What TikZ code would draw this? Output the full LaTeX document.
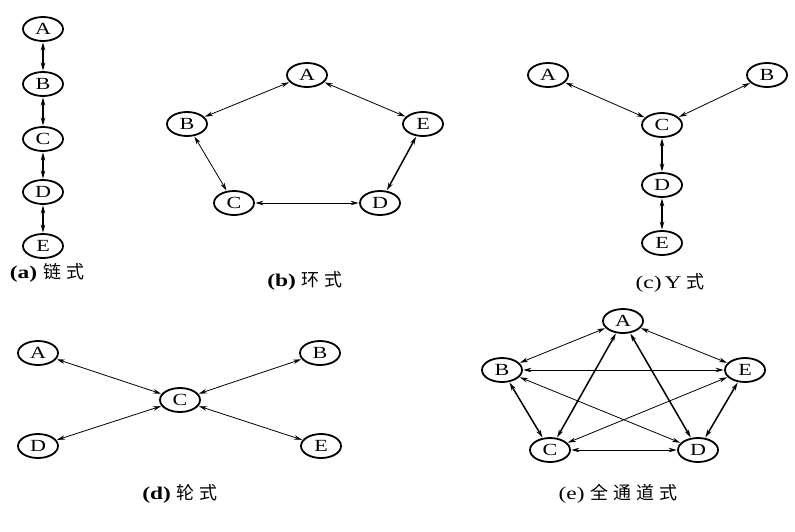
\documentclass[tikz,border=0pt]{standalone}
\usepackage{fontspec}
\setmainfont[FakeStretch=1.3]{Liberation Serif}
\newfontfamily\cjk{Noto Sans CJK SC}
\usetikzlibrary{arrows.meta,shapes.geometric}
\newcommand{\gp}{\hspace{5pt}}
\begin{document}
\begin{tikzpicture}[x=1pt,y=-1pt,
  nd/.style={draw,ellipse,line width=1.8pt,minimum width=40pt,minimum height=24pt,inner sep=0pt,font=\fontsize{17}{17}\selectfont},
  lk/.style={{Stealth[length=8pt,width=4.5pt]}-{Stealth[length=8pt,width=4.5pt]},line width=0.8pt,shorten <=0.5pt,shorten >=0.5pt},
  lkb/.style={lk,line width=1.5pt},
  captxt/.style={font=\fontsize{18}{18}\selectfont}]
\useasboundingbox (0,0) rectangle (795,531);
% (a)
\node[nd] (aA) at (43,29) {A};
\node[nd] (aB) at (43,84) {B};
\node[nd] (aC) at (43,139) {C};
\node[nd] (aD) at (43,192) {D};
\node[nd] (aE) at (43,246) {E};
\draw[lkb] (aA) -- (aB);
\draw[lkb] (aB) -- (aC);
\draw[lkb] (aC) -- (aD);
\draw[lkb] (aD) -- (aE);
\node[captxt] (capa) at (47,273) {\textbf{(a)} {\cjk 链\gp 式}};
% (b)
\node[nd] (bA) at (307,75) {A};
\node[nd] (bB) at (187,124) {B};
\node[nd] (bE) at (423,124) {E};
\node[nd] (bC) at (234,203) {C};
\node[nd] (bD) at (380,203) {D};
\draw[lk] (bA) -- (bB);
\draw[lk] (bA) -- (bE);
\draw[lk] (bB) -- (bC);
\draw[lkb] (bE) -- (bD);
\draw[lk] (bC) -- (bD);
\node[captxt] (capb) at (305,281) {\textbf{(b)} {\cjk 环\gp 式}};
% (c)
\node[nd] (cA) at (548,75) {A};
\node[nd] (cB) at (767,75) {B};
\node[nd] (cC) at (662,125) {C};
\node[nd] (cD) at (662,185) {D};
\node[nd] (cE) at (662,243) {E};
\draw[lk] (cA) -- (cC);
\draw[lk] (cB) -- (cC);
\draw[lkb] (cC) -- (cD);
\draw[lkb] (cD) -- (cE);
\node[captxt] (capc) at (670,283) {(c)\,Y\gp{\cjk 式}};
% (d)
\node[nd] (dA) at (38,353) {A};
\node[nd] (dB) at (320,353) {B};
\node[nd] (dC) at (180,400) {C};
\node[nd] (dD) at (38,446) {D};
\node[nd] (dE) at (321,446) {E};
\draw[lk] (dA) -- (dC);
\draw[lk] (dB) -- (dC);
\draw[lk] (dD) -- (dC);
\draw[lk] (dE) -- (dC);
\node[captxt] (capd) at (180,494) {\textbf{(d)} {\cjk 轮\gp 式}};
% (e)
\node[nd] (eA) at (623,321) {A};
\node[nd] (eB) at (502,370) {B};
\node[nd] (eE) at (745,370) {E};
\node[nd] (eC) at (550,450) {C};
\node[nd] (eD) at (698,450) {D};
\draw[lk] (eA) -- (eB);
\draw[lk] (eA) -- (eE);
\draw[lkb] (eA) -- (eC);
\draw[lkb] (eA) -- (eD);
\draw[lk] (eB) -- (eE);
\draw[lkb] (eB) -- (eC);
\draw[lk] (eB) -- (eD);
\draw[lk] (eE) -- (eC);
\draw[lkb] (eE) -- (eD);
\draw[lk] (eC) -- (eD);
\node[captxt] (cape) at (618,494) {(e) {\cjk 全\gp 通\gp 道\gp 式}};
\end{tikzpicture}
\end{document}
